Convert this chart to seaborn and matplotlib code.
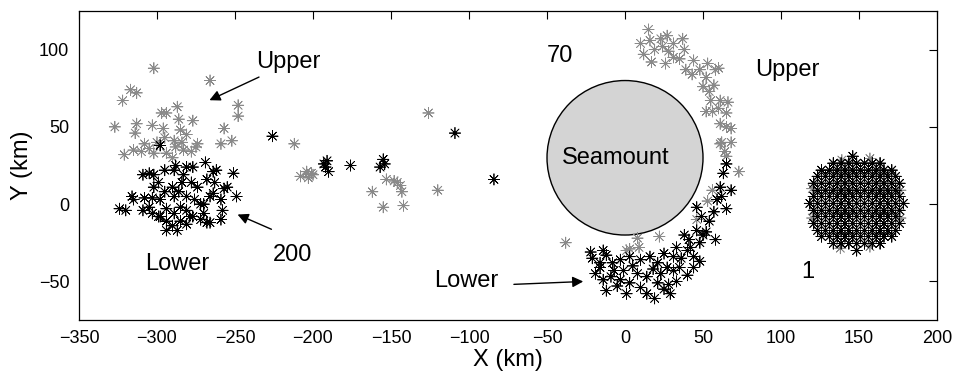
import pandas as pd
import matplotlib
matplotlib.use("Agg")
import matplotlib.pyplot as plt
from matplotlib.patches import Circle
import seaborn as sns

# --- float positions (km) ---

# day 200, west of the seamount
west_upper_x = [-302, -266, -322, -317, -313, -327, -313, -314, -321, -315, -310, -308, -303,
                -302, -297, -294, -287, -286, -296, -295, -300, -294, -289, -285, -284, -283,
                -277, -274, -275, -278, -257, -259, -252, -248, -248, -290, -305, -281, -288]
west_upper_y = [88, 80, 67, 74, 72, 50, 52, 46, 32, 35, 34, 39, 51,
                33, 59, 59, 63, 55, 49, 43, 40, 33, 41, 48, 40, 35,
                54, 39, 37, 34, 49, 39, 41, 64, 57, 30, 36, 45, 37]
west_lower_x = [-324, -320, -316, -315, -309, -308, -309, -305, -302, -302, -295, -299, -303,
                -298, -298, -294, -294, -289, -288, -290, -289, -289, -287, -285, -284, -281,
                -281, -278, -277, -274, -272, -272, -277, -269, -268, -264, -262, -263, -264,
                -259, -257, -255, -258, -259, -268, -266, -270, -251, -249, -281, -279, -294,
                -285, -303, -299, -298, -283, -295, -305, -276, -266, -281, -290, -270, -286]
west_lower_y = [-3, -4, 5, 3, -4, 4, 19, 20, 19, 11, 22, 14, 4,
                3, -8, -11, -17, 22, 25, 11, 5, -6, -17, -2, 14, 5,
                24, 14, 24, 11, 0, -10, -8, 27, 16, 21, 22, 14, 7,
                3, 10, 11, -4, -10, -12, -12, 0, 20, 5, -4, -8, -3,
                -11, -6, -8, 38, 19, 8, -2, 3, 5, -13, -14, -6, 8]

# stragglers between the two groups
mid_upper_x = [-212, -204, -208, -200, -203, -201, -153, -146, -144, -148, -143, -162, -155,
               -142, -126, -120, -38]
mid_upper_y = [39, 21, 18, 19, 17, 20, 16, 14, 12, 15, 8, 8, -2, -1, 59, 9, -25]
mid_lower_x = [-226, -191, -192, -190, -193, -176, -155, -157, -154, -109, -84]
mid_lower_y = [44, 28, 24, 21, 26, 25, 29, 24, 26, 46, 16]

# day 70, wrapped round the seamount
arc_upper_x = [15, 10, 12, 16, 19, 17, 23, 24, 27, 28, 26, 31, 31, 37, 38, 35, 39, 44, 43,
               48, 53, 52, 58, 60, 50, 54, 57, 55, 61, 66, 52, 56, 60, 65, 61, 65, 68, 62,
               68, 64, 61, 65, 73, 56, 53, 46, 8, 9, 22, 3, 1]
arc_upper_y = [113, 104, 97, 106, 100, 92, 107, 102, 109, 99, 91, 104, 95, 107, 100, 94, 87,
               93, 84, 87, 91, 82, 87, 88, 76, 73, 77, 67, 67, 66, 60, 60, 62, 59, 52, 50,
               49, 40, 40, 34, 39, 31, 21, 9, 2, -10, -22, -28, -21, -29, -30]
arc_lower_x = [65, 63, 61, 68, 59, 65, 49, 54, 46, 52, 58, 48, 46, 41, 38, 33, 40, 44, 48,
               31, 25, 27, 35, 40, 44, 21, 16, 10, 3, -3, -1, 8, 14, 21, 29, 28, 33, 10,
               3, -5, -12, -14, -19, -21, -12, -16, -7, -9, -3, 1, 19, 14, 23, 31, -16,
               -22, -14, 5, 18, 25, 36, 57, 62, 50, 42, -8]
arc_lower_y = [26, 20, 11, 9, 3, -3, -8, -11, -17, -18, -23, -25, -2, -23, -20, -28, -30,
               -34, -37, -34, -32, -41, -41, -46, -41, -38, -34, -36, -34, -36, -43, -45,
               -47, -51, -58, -52, -50, -54, -51, -53, -56, -49, -45, -35, -33, -41, -43,
               -47, -49, -58, -61, -58, -45, -43, -38, -31, -30, -40, -42, -55, -35, -5, 5,
               -20, -28, -38]

# day 1, the release patch, row by row
start_row_y = [31, 26.5, 22, 18, 13.5, 9, 5, 0.5, -4, -8, -12.5, -17, -21, -25.5, -30]
start_row_x = [
    [146],
    [133.5, 138.5, 143.5, 148.5, 153.5, 158.5, 163.5],
    [126, 131, 136, 141, 146, 151, 156, 161, 166, 171],
    [123.5, 128.5, 133.5, 138.5, 143.5, 148.5, 153.5, 158.5, 163.5, 168.5, 173.5],
    [121, 126, 131, 136, 141, 146, 151, 156, 161, 166, 171, 176],
    [123.5, 128.5, 133.5, 138.5, 143.5, 148.5, 153.5, 158.5, 163.5, 168.5, 173.5],
    [121, 126, 131, 136, 141, 146, 151, 156, 161, 166, 171, 176],
    [118.5, 123.5, 128.5, 133.5, 138.5, 143.5, 148.5, 153.5, 158.5, 163.5, 168.5, 173.5, 178.5],
    [121, 126, 131, 136, 141, 146, 151, 156, 161, 166, 171, 176],
    [123.5, 128.5, 133.5, 138.5, 143.5, 148.5, 153.5, 158.5, 163.5, 168.5, 173.5],
    [121, 126, 131, 136, 141, 146, 151, 156, 161, 166, 171, 176],
    [123.5, 128.5, 133.5, 138.5, 143.5, 148.5, 153.5, 158.5, 163.5, 168.5, 173.5],
    [126, 131, 136, 141, 146, 151, 156, 161, 166, 171],
    [133.5, 138.5, 143.5, 148.5, 153.5, 158.5, 163.5],
    [148.5],
]
# upper-layer floats that peek out from under the patch edge
start_upper_x = [139, 157, 120, 120, 176.5, 176.5, 138, 157]
start_upper_y = [28.5, 29.5, 10, -9, 9, -9, -28.5, -27.5]

SEAMOUNT_X, SEAMOUNT_Y, SEAMOUNT_R = 0, 30, 50

GRAY = "#8a8a8a"


def build_frame():
    rows = []
    start_x = [x for xs in start_row_x for x in xs]
    start_y = [y for y, xs in zip(start_row_y, start_row_x) for _ in xs]
    upper = [(west_upper_x, west_upper_y), (mid_upper_x, mid_upper_y),
             (arc_upper_x, arc_upper_y), (start_x, start_y),
             (start_upper_x, start_upper_y)]
    lower = [(west_lower_x, west_lower_y), (mid_lower_x, mid_lower_y),
             (arc_lower_x, arc_lower_y), (start_x, start_y)]
    for xs, ys in upper:
        rows += [(x, y, "Upper") for x, y in zip(xs, ys)]
    for xs, ys in lower:
        rows += [(x, y, "Lower") for x, y in zip(xs, ys)]
    return pd.DataFrame(rows, columns=["x", "y", "layer"])


df = build_frame()

sns.set_style("white")
plt.rcParams["font.family"] = ["Liberation Sans", "DejaVu Sans"]
plt.rcParams["text.color"] = "black"
plt.rcParams["axes.labelcolor"] = "black"
plt.rcParams["xtick.color"] = "black"
plt.rcParams["ytick.color"] = "black"

fig = plt.figure(figsize=(9.54, 3.77), dpi=100)
ax = fig.add_axes([0.0828, 0.1512, 0.8994, 0.8196])

ax.add_patch(Circle((SEAMOUNT_X, SEAMOUNT_Y), SEAMOUNT_R, facecolor="#d4d4d4",
                    edgecolor="black", linewidth=1.0, zorder=1))

sns.scatterplot(data=df, x="x", y="y", hue="layer",
                palette={"Upper": GRAY, "Lower": "black"},
                marker=(8, 2, 0), s=65, linewidth=0.55, legend=False,
                ax=ax, zorder=2)

# labels and arrows
fs = 17
arrow = dict(arrowstyle="-|>", color="black", lw=1, mutation_scale=16)
ax.text(-216, 92, "Upper", fontsize=fs, ha="center", va="center")
ax.annotate("", xy=(-268, 66.5), xytext=(-233, 83), arrowprops=arrow)
ax.text(-213, -33, "200", fontsize=fs, ha="center", va="center")
ax.annotate("", xy=(-250, -6), xytext=(-225, -17), arrowprops=arrow)
ax.text(-287, -39, "Lower", fontsize=fs, ha="center", va="center")
ax.text(-41.5, 96, "70", fontsize=fs, ha="center", va="center")
ax.text(104, 87, "Upper", fontsize=fs, ha="center", va="center")
ax.text(-6, 30, "Seamount", fontsize=fs, ha="center", va="center")
ax.text(-102, -50, "Lower", fontsize=fs, ha="center", va="center")
ax.annotate("", xy=(-25, -50), xytext=(-73, -52), arrowprops=arrow)
ax.text(117, -44, "1", fontsize=fs, ha="center", va="center")

ax.set_xlim(-350, 200)
ax.set_ylim(-75, 125)
ax.set_xticks(range(-350, 201, 50))
ax.set_yticks([-50, 0, 50, 100])
ax.tick_params(direction="in", top=True, right=True, length=6, width=0.8,
               labelsize=13, pad=7)
for sp in ax.spines.values():
    sp.set_linewidth(0.9)
    sp.set_color("black")
ax.set_xlabel("X (km)", fontsize=17, labelpad=2)
ax.set_ylabel("Y (km)", fontsize=17, labelpad=4)

plt.savefig("out.png", dpi=100)
